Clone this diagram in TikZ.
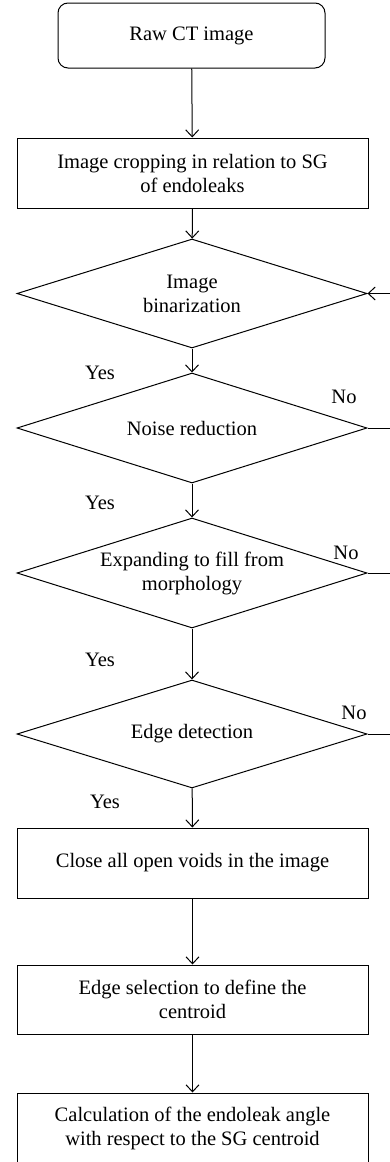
\documentclass[tikz,border=0pt]{standalone}
\usepackage{fontspec}
\setmainfont{Liberation Serif}
\usetikzlibrary{shapes.geometric,arrows.meta}
\begin{document}
\begin{tikzpicture}[x=1pt,y=-1pt,
  every node/.style={font=\fontsize{20.5}{24}\selectfont},
  base/.style={draw,line width=1pt,align=center,inner sep=0pt},
  procbox/.style={base,rectangle,minimum width=351pt},
  startbox/.style={base,rectangle,rounded corners=10pt,minimum width=267pt,minimum height=65pt},
  decision/.style={base,diamond,aspect=3.21,minimum width=350pt,minimum height=109pt},
  conn/.style={line width=1pt,-{Straight Barb[length=7pt,width=13pt,line width=1pt]}},
  plain/.style={line width=1pt},
  lbl/.style={inner sep=0pt}]
\useasboundingbox (0,0) rectangle (390,1162);
\clip (0,0) rectangle (390,1162);

\node[startbox] (start) at (191.5,35.5) {Raw CT image};
\node[procbox,minimum height=70pt] (crop) at (192.5,173) {Image cropping in relation to SG\\of endoleaks};
\node[decision] (d1) at (192,293.5) {Image\\binarization};
\node[decision,minimum height=110pt] (d2) at (192,428) {Noise reduction};
\node[decision,minimum height=110pt] (d3) at (192,573) {Expanding to fill from\\morphology};
\node[decision,minimum height=108pt] (d4) at (192,734) {Edge detection};
\node[procbox,minimum height=70pt] (close) at (192.5,863) {Close all open voids in the image};
\node[procbox,minimum height=69pt] (sel) at (192.5,999.5) {Edge selection to define the\\centroid};
\node[procbox,minimum height=71pt] (calc) at (192.5,1128.5) {Calculation of the endoleak angle\\with respect to the SG centroid};

\node[lbl] (y1) at (100,373) {Yes};
\node[lbl] (y2) at (100,503) {Yes};
\node[lbl] (y3) at (100,660) {Yes};
\node[lbl] (y4) at (105,802) {Yes};
\node[lbl] (n2) at (344,397) {No};
\node[lbl] (n3) at (346,553) {No};
\node[lbl] (n4) at (354,713) {No};

\coordinate (r1) at (391,293.5);
\coordinate (r2) at (391,428);
\coordinate (r3) at (391,573);
\coordinate (r4) at (391,734);

\draw[conn] (start) -- (crop);
\draw[conn] (crop) -- (d1);
\draw[conn] (d1) -- (d2);
\draw[conn] (d2) -- (d3);
\draw[conn] (d3) -- (d4);
\draw[conn] (d4) -- (close);
\draw[conn] (close) -- (sel);
\draw[conn] (sel) -- (calc);
\draw[conn] (r1) -- (d1.east);
\draw[plain] (d2.east) -- (r2);
\draw[plain] (d3.east) -- (r3);
\draw[plain] (d4.east) -- (r4);
\end{tikzpicture}
\end{document}
